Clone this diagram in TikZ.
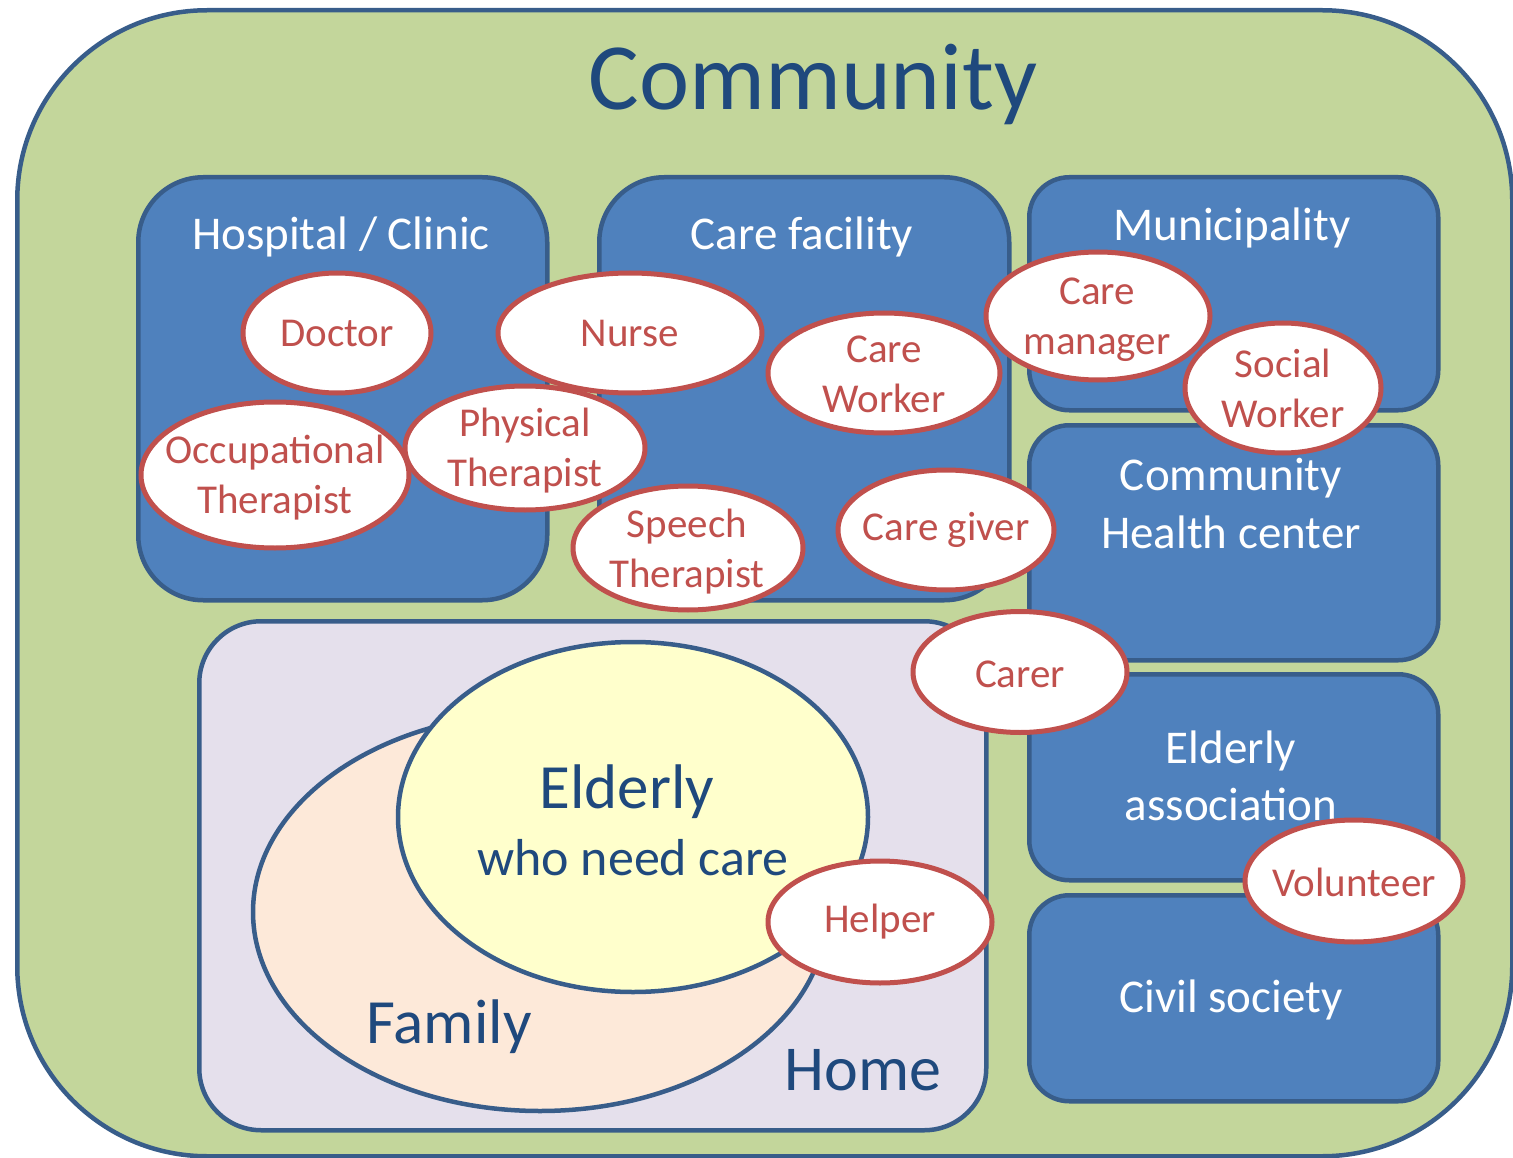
\documentclass[tikz,border=0pt]{standalone}
\usepackage{fontspec}
\setmainfont{Carlito}
\usetikzlibrary{shapes.geometric}
\definecolor{commgreen}{HTML}{C3D69B}
\definecolor{edgeblue}{HTML}{385D8A}
\definecolor{boxblue}{HTML}{4F81BD}
\definecolor{rolered}{HTML}{C0504D}
\definecolor{homefill}{HTML}{E5E0EC}
\definecolor{familyfill}{HTML}{FDE9D9}
\definecolor{elderfill}{HTML}{FFFFCC}
\definecolor{darktext}{HTML}{1F497D}
\begin{document}
\begin{tikzpicture}[x=1pt,y=-1pt,
  region/.style={draw=edgeblue, line width=4.5pt, anchor=north west, inner sep=0pt},
  orgbox/.style={region, fill=boxblue},
  orgtext/.style={text=white, font=\fontsize{47}{57}\selectfont, anchor=base, inner sep=0pt},
  role/.style={ellipse, draw=rolered, line width=5pt, fill=white, inner sep=0pt},
  roletext/.style={text=rolered, font=\fontsize{41}{50}\selectfont, align=center, inner sep=0pt},
  bigtext/.style={text=darktext, anchor=base, inner sep=0pt}]
\useasboundingbox (0,0) rectangle (1513,1158);
% community
\node[region, fill=commgreen, rounded corners=190pt, minimum width=1495pt, minimum height=1146pt] (comm) at (15,8) {};
\node[bigtext, font=\fontsize{95}{110}\selectfont] (commt) at (813,110) {Community};
% boxes
\node[orgbox, rounded corners=65pt, minimum width=409pt, minimum height=423pt] (hosp) at (136,175) {};
\node[orgbox, rounded corners=65pt, minimum width=410pt, minimum height=423pt] (fac) at (597,175) {};
\node[orgbox, rounded corners=40pt, minimum width=409pt, minimum height=233pt] (muni) at (1027,175) {};
\node[orgbox, rounded corners=40pt, minimum width=409pt, minimum height=235pt] (chc) at (1027,423) {};
\node[orgbox, rounded corners=40pt, minimum width=409pt, minimum height=206pt] (eass) at (1027,672) {};
\node[orgbox, rounded corners=40pt, minimum width=409pt, minimum height=206pt] (civ) at (1027,893) {};
\node[region, fill=homefill, rounded corners=62pt, minimum width=787pt, minimum height=509pt] (home) at (197,619) {};
% box titles
\node[orgtext] (hospt) at (341,250) {Hospital / Clinic};
\node[orgtext] (fact) at (802,250) {Care facility};
\node[orgtext] (munit) at (1232,241) {Municipality};
\node[orgtext] (chct1) at (1231,490) {Community};
\node[orgtext] (chct2) at (1231,548) {Health center};
\node[orgtext] (easst1) at (1231,763) {Elderly};
\node[orgtext] (easst2) at (1231,820) {association};
\node[orgtext] (civt) at (1231,1012) {Civil society};
% family and elderly
\node[ellipse, draw=edgeblue, line width=4.5pt, fill=familyfill, minimum width=574pt, minimum height=398pt, inner sep=0pt] (fam) at (540,912) {};
\node[ellipse, draw=edgeblue, line width=4.5pt, fill=elderfill, minimum width=470pt, minimum height=350pt, inner sep=0pt] (eld) at (633,817) {};
\node[bigtext, font=\fontsize{63}{70}\selectfont] (eldt1) at (627,808) {Elderly};
\node[bigtext, font=\fontsize{52}{60}\selectfont] (eldt2) at (633,875) {who need care};
\node[bigtext, font=\fontsize{63}{70}\selectfont] (famt) at (449,1043) {Family};
\node[bigtext, font=\fontsize{64}{70}\selectfont] (homet) at (863,1090) {Home};
% roles
\node[role, minimum width=188pt, minimum height=120pt] (doc) at (337,333) {};
\node[roletext] (doct) at (doc) {Doctor};
\node[role, minimum width=264pt, minimum height=120pt] (nur) at (630,333) {};
\node[roletext] (nurt) at (nur) {Nurse};
\node[role, minimum width=232pt, minimum height=120pt] (cw) at (884,373) {};
\node[roletext] (cwt) at (884,374) {Care\\Worker};
\node[role, minimum width=224pt, minimum height=128pt] (cm) at (1098,316) {};
\node[roletext] (cmt) at (1097,320) {Care\\manager};
\node[role, minimum width=196pt, minimum height=130pt] (sw) at (1283,388) {};
\node[roletext] (swt) at (1283,388) {Social\\Worker};
\node[role, minimum width=268pt, minimum height=146pt] (ot) at (275,475) {};
\node[roletext] (ott) at (275,478) {Occupational\\Therapist};
\node[role, minimum width=240pt, minimum height=124pt] (pt) at (525,448) {};
\node[roletext] (ptt) at (525,451) {Physical\\Therapist};
\node[role, minimum width=230pt, minimum height=124pt] (st) at (688,548) {};
\node[roletext] (stt) at (687,552) {Speech\\Therapist};
\node[role, minimum width=216pt, minimum height=120pt] (cg) at (946,530) {};
\node[roletext] (cgt) at (cg) {Care giver};
\node[role, minimum width=214pt, minimum height=121pt] (car) at (1020,672) {};
\node[roletext] (cart) at (1020,674) {Carer};
\node[role, minimum width=224pt, minimum height=122pt] (help) at (880,922) {};
\node[roletext] (helpt) at (help) {Helper};
\node[role, minimum width=218pt, minimum height=122pt] (vol) at (1354,881) {};
\node[roletext] (volt) at (1354,882) {Volunteer};
\end{tikzpicture}
\end{document}
